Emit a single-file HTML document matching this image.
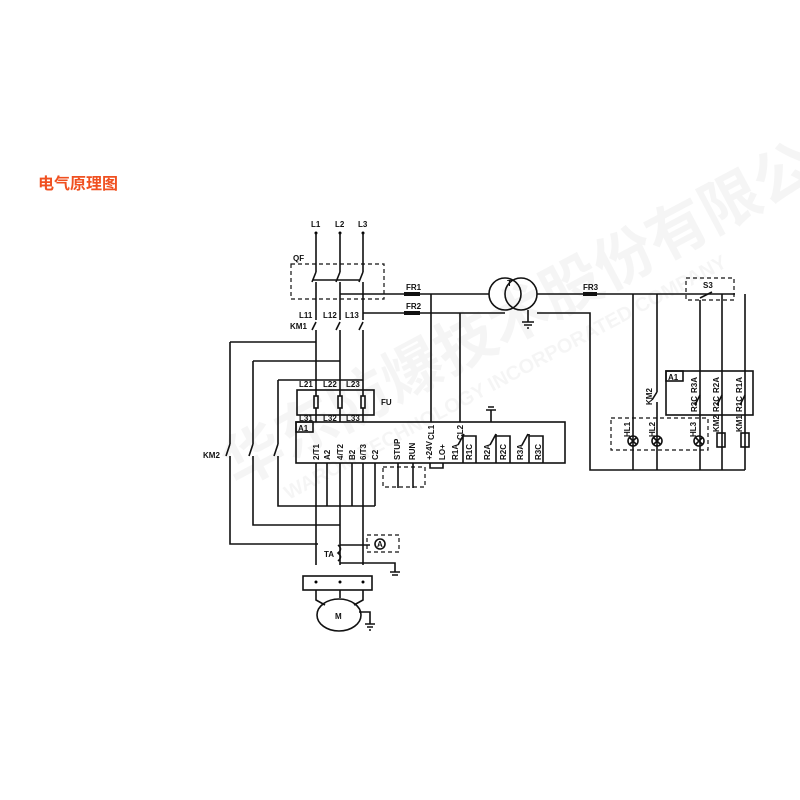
<!DOCTYPE html>
<html><head><meta charset="utf-8"><style>
body{margin:0;background:#fff;width:800px;height:800px;overflow:hidden}
svg{display:block}
text{font-family:"Liberation Sans",sans-serif;font-weight:bold;font-size:8px;fill:#111}
.w{stroke:#111;stroke-width:1.6;fill:none}
.d{stroke:#111;stroke-width:1.2;fill:none;stroke-dasharray:4 3}
</style></head><body>
<svg width="800" height="800" viewBox="0 0 800 800">
<text x="38" y="189" style="font-family:'Liberation Sans','Noto Sans CJK SC',sans-serif;font-size:16px;fill:#f05020;font-weight:bold">电气原理图</text>
<g opacity="0.035" transform="rotate(-28 470 330)">
<text x="190" y="360" style="font-family:'Noto Sans CJK SC',sans-serif;font-size:60px;fill:#000">华东防爆技术股份有限公司</text>
<text x="230" y="395" style="font-size:20px;fill:#000">WAROM TECHNOLOGY INCORPORATED COMPANY</text>
</g>
<text x="311" y="227">L1</text><text x="335" y="227">L2</text><text x="358" y="227">L3</text>
<circle cx="316" cy="233" r="1.5"/><circle cx="340" cy="233" r="1.5"/><circle cx="363" cy="233" r="1.5"/>
<path class="w" d="M316 233V272 M340 233V272 M363 233V272"/>
<text x="293" y="261">QF</text>
<rect class="d" x="291" y="264" width="93" height="35"/>
<path class="w" d="M316 272L312 282M340 272L336 282M363 272L359 282 M313 280H360"/>
<path class="w" d="M316 282V320 M340 282V320 M363 282V320"/>
<path class="w" d="M340 294H404 M363 313H404"/>
<rect x="404" y="292" width="16" height="4" fill="#111"/><rect x="404" y="311" width="16" height="4" fill="#111"/>
<text x="406" y="290">FR1</text><text x="406" y="309">FR2</text>
<path class="w" d="M420 294H489 M420 313H505 M431 294V422 M460 313V422"/>
<circle class="w" cx="505" cy="294" r="16"/><circle class="w" cx="521" cy="294" r="16"/>
<text x="507" y="286">T</text>
<path class="w" d="M537 294H583 M597 294H735 M528 310V322 M522 322H534 M524 325H532 M527 328H529"/>
<path class="w" d="M537 313H590V470H745"/>
<rect x="583" y="292" width="14" height="4" fill="#111"/><text x="583" y="290">FR3</text>
<text x="299" y="318">L11</text><text x="323" y="318">L12</text><text x="345" y="318">L13</text>
<text x="290" y="329">KM1</text>
<path class="w" d="M316 322L312 330M316 330V388 M340 322L336 330M340 330V388 M363 322L359 330M363 330V388"/>
<path class="w" d="M230 342H316 M253 361H340 M278 380H363"/>
<path class="w" d="M230 342V444 M230 444L226 456 M230 456V544H318 M253 361V444 M253 444L249 456 M253 456V525H340 M278 380V444 M278 444L274 456 M278 456V506H375"/>
<text x="203" y="458">KM2</text>
<text x="299" y="387">L21</text><text x="323" y="387">L22</text><text x="346" y="387">L23</text>
<rect class="w" x="297" y="390" width="77" height="25"/>
<rect class="w" x="314" y="396" width="4" height="12"/><rect class="w" x="338" y="396" width="4" height="12"/><rect class="w" x="361" y="396" width="4" height="12"/>
<path class="w" d="M316 388V396M316 408V422M340 388V396M340 408V422M363 388V396M363 408V422"/>
<text x="381" y="405">FU</text>
<text x="299" y="421">L31</text><text x="323" y="421">L32</text><text x="346" y="421">L33</text>
<rect class="w" x="296" y="422" width="269" height="41"/>
<rect class="w" x="296" y="422" width="17" height="10"/><text x="298" y="431">A1</text>
<path class="w" d="M491 422V410 M486 410H496 M488 407H494"/>
<g font-size="7">
<text transform="translate(319,460) rotate(-90)">2/T1</text>
<text transform="translate(330,460) rotate(-90)">A2</text>
<text transform="translate(343,460) rotate(-90)">4/T2</text>
<text transform="translate(355,460) rotate(-90)">B2</text>
<text transform="translate(366,460) rotate(-90)">6/T3</text>
<text transform="translate(378,460) rotate(-90)">C2</text>
<text transform="translate(400,460) rotate(-90)">STUP</text>
<text transform="translate(415,460) rotate(-90)">RUN</text>
<text transform="translate(432,460) rotate(-90)">+24V</text>
<text transform="translate(434,440) rotate(-90)">CL1</text>
<text transform="translate(463,440) rotate(-90)">CL2</text>
<text transform="translate(445,460) rotate(-90)">LO+</text>
<text transform="translate(458,460) rotate(-90)">R1A</text>
<text transform="translate(472,460) rotate(-90)">R1C</text>
<text transform="translate(490,460) rotate(-90)">R2A</text>
<text transform="translate(506,460) rotate(-90)">R2C</text>
<text transform="translate(523,460) rotate(-90)">R3A</text>
<text transform="translate(541,460) rotate(-90)">R3C</text>
</g>
<path class="w" d="M458 445L464 434 M463 463V434 M463 438V436H476V463 M490 445L496 434 M496 463V434 M496 438V436H510V463 M522 445L528 434 M529 463V434 M529 438V436H543V463"/>
<path class="w" d="M430 463V468H443V463"/>
<rect class="d" x="383" y="467" width="42" height="20"/>
<path class="w" d="M398 463V488M413 463V488"/>
<path class="w" d="M316 463V565 M327 463V506 M340 463V565 M352 463V506 M363 463V565 M375 463V506"/>
<text x="324" y="557">TA</text>
<path class="w" d="M338 545Q343 549 338 553Q343 557 338 561 M340 545H370 M340 563H395V572 M390 572H400 M392 575H398"/>
<rect class="d" x="367" y="535" width="32" height="17"/>
<circle class="w" cx="380" cy="544" r="5"/><text x="377" y="547" font-size="6">A</text>
<rect class="w" x="303" y="576" width="69" height="14"/>
<circle cx="316" cy="582" r="1.5"/><circle cx="340" cy="582" r="1.5"/><circle cx="363" cy="582" r="1.5"/>
<path class="w" d="M316 590V600L325 605 M340 590V598 M363 590V600L354 605"/>
<ellipse class="w" cx="339" cy="615" rx="22" ry="16"/><text x="335" y="619">M</text>
<path class="w" d="M359 612H370V624 M365 624H375 M367 627H373 M369 630H371"/>
<rect class="d" x="686" y="278" width="48" height="22"/><text x="703" y="288">S3</text>
<path class="w" d="M633 294V470 M657 294V392 M657 392L652 400 M657 402V470 M700 300V470 M722 294V470 M745 294V470"/>
<path class="w" d="M700 298L712 292"/>
<rect class="w" x="666" y="371" width="87" height="44"/>
<rect class="w" x="666" y="371" width="17" height="10"/><text x="668" y="380">A1</text>
<path class="w" d="M700 395L695 405 M722 395L717 405 M745 395L740 405"/>
<g font-size="7">
<text transform="translate(697,393) rotate(-90)">R3A</text><text transform="translate(697,412) rotate(-90)">R3C</text>
<text transform="translate(719,393) rotate(-90)">R2A</text><text transform="translate(719,412) rotate(-90)">R2C</text>
<text transform="translate(742,393) rotate(-90)">R1A</text><text transform="translate(742,412) rotate(-90)">R1C</text>
<text transform="translate(652,405) rotate(-90)">KM2</text>
<text transform="translate(630,437) rotate(-90)">HL1</text>
<text transform="translate(655,437) rotate(-90)">HL2</text>
<text transform="translate(696,437) rotate(-90)">HL3</text>
<text transform="translate(719,432) rotate(-90)">KM2</text>
<text transform="translate(742,432) rotate(-90)">KM1</text>
</g>
<rect class="d" x="611" y="418" width="97" height="32"/>
<g fill="#fff">
<circle class="w" cx="633" cy="441" r="5"/><circle class="w" cx="657" cy="441" r="5"/><circle class="w" cx="699" cy="441" r="5"/>
<rect class="w" x="717" y="433" width="8" height="14"/><rect class="w" x="741" y="433" width="8" height="14"/>
</g>
<path class="w" d="M630 438l6 6m0-6l-6 6 M654 438l6 6m0-6l-6 6 M696 438l6 6m0-6l-6 6" stroke-width="1"/>
</svg>
</body></html>
